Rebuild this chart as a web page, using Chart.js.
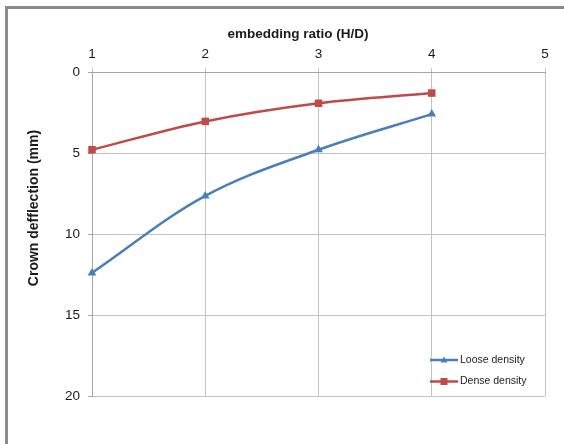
<!DOCTYPE html>
<html>
<head>
<meta charset="utf-8">
<script src="https://cdn.jsdelivr.net/npm/chart.js@4/dist/chart.umd.min.js"></script>
<style>
  html, body { margin: 0; padding: 0; background: #ffffff; }
  #wrap { width: 564px; height: 444px; position: relative; }
</style>
</head>
<body>
<div id="wrap"><canvas id="c" width="564" height="444"></canvas></div>
<script>
// Embedding ratio H/D against crown deflection (mm)
const ratios = [1, 2, 3, 4];
const looseDeflection = [12.4, 7.65, 4.8, 2.6];
const denseDeflection = [4.8, 3.05, 1.93, 1.3];
const seriesNames = ['Loose density', 'Dense density'];
const xTitle = 'embedding ratio (H/D)';
const yTitle = 'Crown defflection (mm)';

const BLUE = '#4a7ebb';
const RED = '#be4b48';
const GRID = '#c3c3c3';
const FONT = "'Liberation Sans', Arial, sans-serif";

const toPoints = (xs, ys) => xs.map((x, i) => ({ x: x, y: ys[i] }));

// Frame, axis titles and the in-plot legend
const decor = {
  id: 'decor',
  beforeDraw(chart) {
    const ctx = chart.ctx;
    ctx.save();
    ctx.fillStyle = '#ffffff';
    ctx.fillRect(0, 0, chart.width, chart.height);
    ctx.fillStyle = '#8c8c8c';
    ctx.fillRect(5, 6, 3, chart.height - 6);
    ctx.fillRect(5, 6, chart.width - 5, 3);
    ctx.restore();
  },
  afterDraw(chart) {
    const ctx = chart.ctx;
    ctx.save();
    ctx.fillStyle = '#1a1a1a';
    ctx.textAlign = 'center';
    ctx.textBaseline = 'middle';
    ctx.font = 'bold 13.5px ' + FONT;
    ctx.fillText(xTitle, 298, 34);
    ctx.font = 'bold 14px ' + FONT;
    ctx.translate(34, 208);
    ctx.rotate(-Math.PI / 2);
    ctx.fillText(yTitle, 0, 0);
    ctx.restore();

    // legend entries
    ctx.save();
    ctx.font = '10.5px ' + FONT;
    ctx.textAlign = 'left';
    ctx.textBaseline = 'middle';
    chart.data.datasets.forEach((ds, i) => {
      const y = 360 + i * 21.5;
      ctx.strokeStyle = ds.borderColor;
      ctx.lineWidth = 2.5;
      ctx.beginPath();
      ctx.moveTo(430, y);
      ctx.lineTo(458, y);
      ctx.stroke();
      ctx.fillStyle = ds.borderColor;
      if (ds.pointStyle === 'triangle') {
        ctx.beginPath();
        ctx.moveTo(444, y - 3.5);
        ctx.lineTo(447.5, y + 2.5);
        ctx.lineTo(440.5, y + 2.5);
        ctx.closePath();
        ctx.fill();
      } else {
        ctx.fillRect(440.5, y - 3.5, 7, 7);
      }
      ctx.fillStyle = '#222222';
      ctx.fillText(ds.label, 460, y);
    });
    ctx.restore();
  }
};

new Chart(document.getElementById('c'), {
  type: 'line',
  data: {
    datasets: [
      {
        label: seriesNames[0],
        data: toPoints(ratios, looseDeflection),
        borderColor: BLUE,
        backgroundColor: BLUE,
        borderWidth: 2.5,
        pointStyle: 'triangle',
        pointRadius: 5,
        pointBorderWidth: 0,
        tension: 0.35,
        clip: false,
        fill: false
      },
      {
        label: seriesNames[1],
        data: toPoints(ratios, denseDeflection),
        borderColor: RED,
        backgroundColor: RED,
        borderWidth: 2.5,
        pointStyle: 'rect',
        pointRadius: 5.3,
        pointBorderWidth: 0,
        tension: 0.35,
        clip: false,
        fill: false
      }
    ]
  },
  options: {
    responsive: false,
    animation: false,
    devicePixelRatio: 1,
    layout: { padding: { left: 0, top: 0, right: 19, bottom: 48 } },
    plugins: {
      legend: { display: false },
      tooltip: { enabled: false }
    },
    scales: {
      x: {
        type: 'linear',
        position: 'top',
        min: 1,
        max: 5,
        ticks: {
          stepSize: 1,
          color: '#1a1a1a',
          padding: 6,
          font: { family: FONT, size: 13.5 }
        },
        grid: { color: GRID, tickLength: 4, tickColor: GRID },
        border: { color: '#a6a6a6' },
        afterFit(scale) { scale.height = 72; }
      },
      y: {
        type: 'linear',
        reverse: true,
        min: 0,
        max: 20,
        ticks: {
          stepSize: 5,
          color: '#1a1a1a',
          padding: 8,
          font: { family: FONT, size: 13.5 }
        },
        grid: { color: GRID, tickLength: 4, tickColor: '#a6a6a6' },
        border: { color: '#a6a6a6' },
        afterFit(scale) { scale.width = 92; }
      }
    }
  },
  plugins: [decor]
});
</script>
</body>
</html>
